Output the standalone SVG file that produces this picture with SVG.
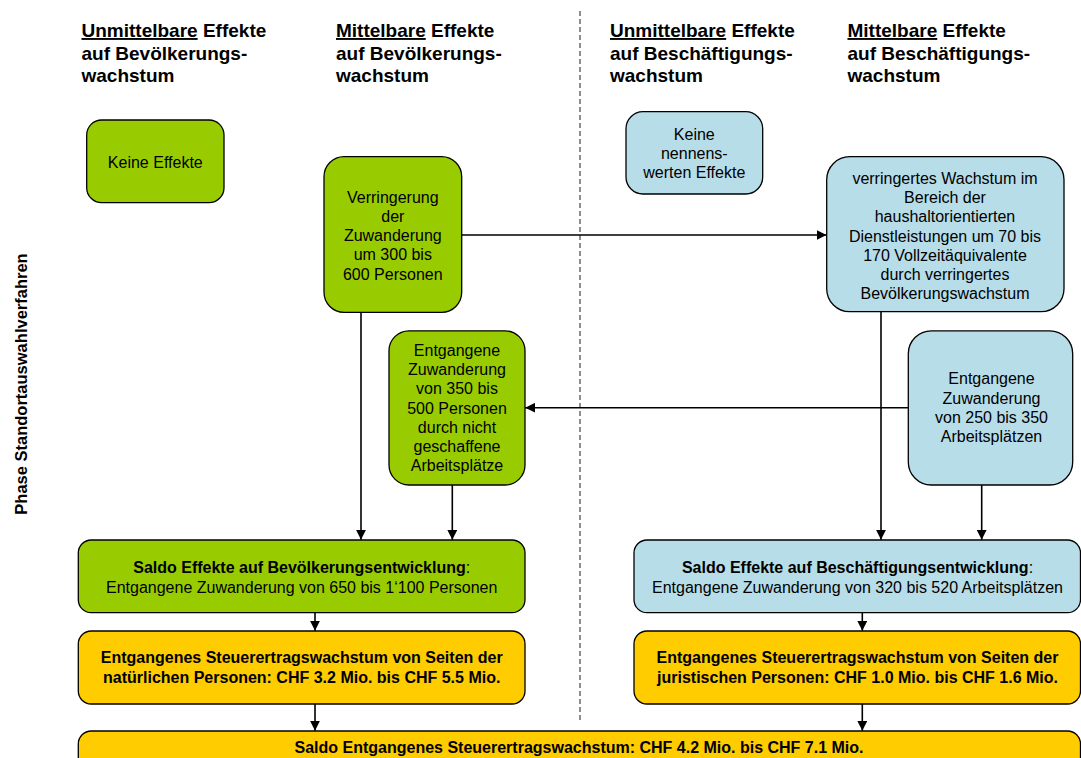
<svg xmlns="http://www.w3.org/2000/svg" width="1081" height="758" viewBox="0 0 1081 758">
<defs>
<style>
text{font-family:"Liberation Sans",Arial,sans-serif;fill:#000}
.h{font-size:19px;font-weight:bold}
.t{font-size:16px;text-anchor:middle}
.b{font-weight:bold}
.box{stroke:#000;stroke-width:1.3}
.g{fill:#99CC00}
.bl{fill:#B7DDE8}
.y{fill:#FFCC00}
.c{stroke:#000;stroke-width:1.6;fill:none}
</style>
<marker id="ah" markerUnits="userSpaceOnUse" markerWidth="10" markerHeight="10" refX="9" refY="4.5" orient="auto" viewBox="0 0 9 9">
<path d="M0,0 L9,4.5 L0,9 z" fill="#000"/>
</marker>
</defs>
<rect width="1081" height="758" fill="#fff"/>

<g id="headers">
<text class="h" x="81.5" y="37"><tspan text-decoration="underline">Unmittelbare</tspan> Effekte</text>
<text class="h" x="81.5" y="59.5">auf Bevölkerungs-</text>
<text class="h" x="81.5" y="82">wachstum</text>
<text class="h" x="336" y="37"><tspan text-decoration="underline">Mittelbare</tspan> Effekte</text>
<text class="h" x="336" y="59.5">auf Bevölkerungs-</text>
<text class="h" x="336" y="82">wachstum</text>
<text class="h" x="610" y="37"><tspan text-decoration="underline">Unmittelbare</tspan> Effekte</text>
<text class="h" x="610" y="59.5">auf Beschäftigungs-</text>
<text class="h" x="610" y="82">wachstum</text>
<text class="h" x="847.5" y="37"><tspan text-decoration="underline">Mittelbare</tspan> Effekte</text>
<text class="h" x="847.5" y="59.5">auf Beschäftigungs-</text>
<text class="h" x="847.5" y="82">wachstum</text>
</g>

<text class="b" x="0" y="0" font-size="16.5" text-anchor="middle" transform="translate(27,384) rotate(-90)">Phase Standortauswahlverfahren</text>

<line x1="580" y1="11" x2="580" y2="722" stroke="#444" stroke-width="1.2" stroke-dasharray="5 3"/>

<g id="connectors">
<line class="c" x1="461.7" y1="235" x2="826.5" y2="235" marker-end="url(#ah)"/>
<line class="c" x1="908.3" y1="407.7" x2="525.2" y2="407.7" marker-end="url(#ah)"/>
<line class="c" x1="361" y1="312.3" x2="361" y2="539.8" marker-end="url(#ah)"/>
<line class="c" x1="452.3" y1="485" x2="452.3" y2="539.8" marker-end="url(#ah)"/>
<line class="c" x1="881" y1="311.7" x2="881" y2="539.8" marker-end="url(#ah)"/>
<line class="c" x1="981.7" y1="485" x2="981.7" y2="539.8" marker-end="url(#ah)"/>
<line class="c" x1="315" y1="612.7" x2="315" y2="630.8" marker-end="url(#ah)"/>
<line class="c" x1="315" y1="704" x2="315" y2="730.8" marker-end="url(#ah)"/>
<line class="c" x1="862.3" y1="612.7" x2="862.3" y2="630.8" marker-end="url(#ah)"/>
<line class="c" x1="862.3" y1="704" x2="862.3" y2="730.8" marker-end="url(#ah)"/>
</g>

<g id="n_keine_bev">
<rect class="box g" x="86.7" y="120" width="137.3" height="82.7" rx="15"/>
<text class="t" x="155.3" y="168.3">Keine Effekte</text>
</g>

<g id="n_verringerung">
<rect class="box g" x="324" y="156.7" width="137.7" height="155.6" rx="20"/>
<text class="t" x="392.8" y="202.7">Verringerung</text>
<text class="t" x="392.8" y="221.9">der</text>
<text class="t" x="392.8" y="241.1">Zuwanderung</text>
<text class="t" x="392.8" y="260.3">um 300 bis</text>
<text class="t" x="392.8" y="279.5">600 Personen</text>
</g>

<g id="n_entgangen_bev">
<rect class="box g" x="389" y="330.8" width="136" height="154.2" rx="20"/>
<text class="t" x="457" y="356">Entgangene</text>
<text class="t" x="457" y="375.2">Zuwanderung</text>
<text class="t" x="457" y="394.4">von 350 bis</text>
<text class="t" x="457" y="413.6">500 Personen</text>
<text class="t" x="457" y="432.8">durch nicht</text>
<text class="t" x="457" y="452">geschaffene</text>
<text class="t" x="457" y="471.2">Arbeitsplätze</text>
</g>

<g id="n_keine_besch">
<rect class="box bl" x="626" y="111.7" width="136.7" height="82.3" rx="17"/>
<text class="t" x="694.3" y="139.5">Keine</text>
<text class="t" x="694.3" y="158.7">nennens-</text>
<text class="t" x="694.3" y="177.9">werten Effekte</text>
</g>

<g id="n_dienstleistungen">
<rect class="box bl" x="826.7" y="156.7" width="237.3" height="155" rx="23"/>
<text class="t" x="945" y="184">verringertes Wachstum im</text>
<text class="t" x="945" y="203.2">Bereich der</text>
<text class="t" x="945" y="222.4">haushaltorientierten</text>
<text class="t" x="945" y="241.6">Dienstleistungen um 70 bis</text>
<text class="t" x="945" y="260.8">170 Vollzeitäquivalente</text>
<text class="t" x="945" y="280">durch verringertes</text>
<text class="t" x="945" y="299.2">Bevölkerungswachstum</text>
</g>

<g id="n_entgangen_besch">
<rect class="box bl" x="908.3" y="330.8" width="164.4" height="154.2" rx="23"/>
<text class="t" x="991.5" y="384.3">Entgangene</text>
<text class="t" x="991.5" y="403.5">Zuwanderung</text>
<text class="t" x="991.5" y="422.7">von 250 bis 350</text>
<text class="t" x="991.5" y="441.9">Arbeitsplätzen</text>
</g>

<g id="n_saldo_bev">
<rect class="box g" x="78.3" y="540" width="446.7" height="72.7" rx="13"/>
<text class="t" x="301.7" y="572.7"><tspan class="b">Saldo Effekte auf Bevölkerungsentwicklung</tspan>:</text>
<text class="t" x="301.7" y="592.7">Entgangene Zuwanderung von 650 bis 1‘100 Personen</text>
</g>

<g id="n_saldo_besch">
<rect class="box bl" x="634" y="540" width="446.5" height="72.7" rx="13"/>
<text class="t" x="857.5" y="572.7"><tspan class="b">Saldo Effekte auf Beschäftigungsentwicklung</tspan>:</text>
<text class="t" x="857.5" y="592.7">Entgangene Zuwanderung von 320 bis 520 Arbeitsplätzen</text>
</g>

<g id="n_steuer_nat">
<rect class="box y" x="78.3" y="631" width="446.7" height="73" rx="13"/>
<text class="t b" x="301.7" y="663.3">Entgangenes Steuerertragswachstum von Seiten der</text>
<text class="t b" x="301.7" y="683.3">natürlichen Personen: CHF 3.2 Mio. bis CHF 5.5 Mio.</text>
</g>

<g id="n_steuer_jur">
<rect class="box y" x="634" y="631" width="446.5" height="73" rx="13"/>
<text class="t b" x="857.5" y="663.3">Entgangenes Steuerertragswachstum von Seiten der</text>
<text class="t b" x="857.5" y="683.3">juristischen Personen: CHF 1.0 Mio. bis CHF 1.6 Mio.</text>
</g>

<g id="n_saldo_total">
<rect class="box y" x="78.3" y="731" width="1002.2" height="60" rx="13"/>
<text class="t b" x="579" y="752.7">Saldo Entgangenes Steuerertragswachstum: CHF 4.2 Mio. bis CHF 7.1 Mio.</text>
</g>
</svg>
